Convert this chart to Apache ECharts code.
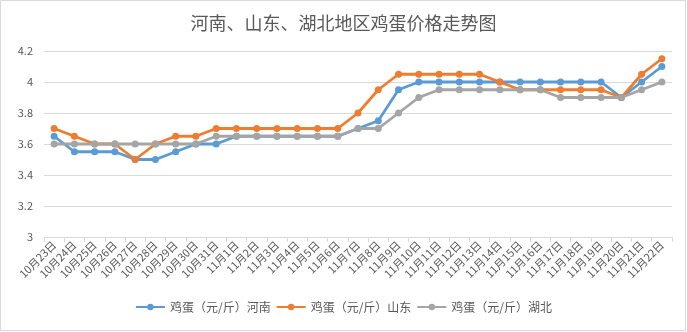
<!DOCTYPE html>
<html>
<head>
<meta charset="utf-8">
<script src="https://cdn.jsdelivr.net/npm/echarts@6/dist/echarts.min.js"></script>
<style>
html,body{margin:0;padding:0;background:#fff;}
#c{width:687px;height:332px;}
</style>
</head>
<body>
<div id="c"></div>
<script>
var categories = ['10月23日','10月24日','10月25日','10月26日','10月27日','10月28日','10月29日','10月30日','10月31日',
  '11月1日','11月2日','11月3日','11月4日','11月5日','11月6日','11月7日','11月8日','11月9日','11月10日','11月11日',
  '11月12日','11月13日','11月14日','11月15日','11月16日','11月17日','11月18日','11月19日','11月20日','11月21日','11月22日'];
var henan = [3.65,3.55,3.55,3.55,3.5,3.5,3.55,3.6,3.6,3.65,3.65,3.65,3.65,3.65,3.65,3.7,3.75,3.95,4.0,4.0,4.0,4.0,4.0,4.0,4.0,4.0,4.0,4.0,3.9,4.0,4.1];
var shandong = [3.7,3.65,3.6,3.6,3.5,3.6,3.65,3.65,3.7,3.7,3.7,3.7,3.7,3.7,3.7,3.8,3.95,4.05,4.05,4.05,4.05,4.05,4.0,3.95,3.95,3.95,3.95,3.95,3.9,4.05,4.15];
var hubei = [3.6,3.6,3.6,3.6,3.6,3.6,3.6,3.6,3.65,3.65,3.65,3.65,3.65,3.65,3.65,3.7,3.7,3.8,3.9,3.95,3.95,3.95,3.95,3.95,3.95,3.9,3.9,3.9,3.9,3.95,4.0];
var seriesNames = ['鸡蛋（元/斤）河南','鸡蛋（元/斤）山东','鸡蛋（元/斤）湖北'];
var titleText = '河南、山东、湖北地区鸡蛋价格走势图';

var font = '"Microsoft YaHei","Noto Sans CJK SC",sans-serif';
var colors = ['#5B9BD5','#ED7D31','#A5A5A5'];
var chart = echarts.init(document.getElementById('c'), null, {renderer:'canvas'});
function mk(name, data, i){
  return {
    name:name, type:'line', data:data,
    symbol:'circle', symbolSize:7,
    lineStyle:{width:2.8, color:colors[i]},
    itemStyle:{color:colors[i]},
    z: 2 + i,
    animation:false
  };
}
chart.setOption({
  animation:false,
  color:colors,
  textStyle:{fontFamily:font},
  graphic:[{type:'rect', shape:{x:0.5,y:0.5,width:685,height:330}, style:{fill:null, stroke:'#D9D9D9', lineWidth:1}, silent:true}],
  title:{text:titleText, left:'center', top:9, textStyle:{fontSize:18, fontWeight:'normal', color:'#595959', fontFamily:font}},
  legend:{bottom:14, left:'center', itemWidth:29, itemHeight:8, itemGap:5,
    textStyle:{fontSize:12, color:'#595959', fontFamily:font},
    data:seriesNames},
  grid:{left:44, right:15, top:51, bottom:95},
  xAxis:{type:'category', data:categories, boundaryGap:true,
    axisLine:{lineStyle:{color:'#D9D9D9'}},
    axisTick:{show:true, length:5, lineStyle:{color:'#D9D9D9'}},
    axisLabel:{rotate:45, interval:0, fontSize:11, color:'#595959', margin:6, fontFamily:font}},
  yAxis:{type:'value', min:3, max:4.2, interval:0.2,
    axisLine:{show:false}, axisTick:{show:false},
    splitLine:{lineStyle:{color:'#D9D9D9'}},
    axisLabel:{fontSize:11, color:'#595959', margin:11, fontFamily:font}},
  series:[mk(seriesNames[0],henan,0), mk(seriesNames[1],shandong,1), mk(seriesNames[2],hubei,2)]
});
</script>
</body>
</html>
